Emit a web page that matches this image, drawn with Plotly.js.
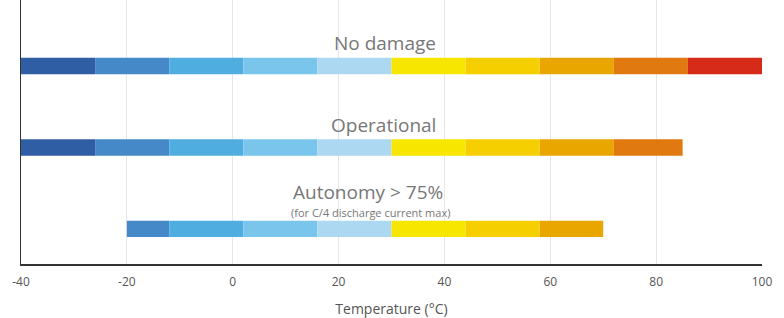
<!DOCTYPE html>
<html><head><meta charset="utf-8">
<script src="https://cdn.plot.ly/plotly-3.0.1.min.js"></script>
<style>html,body{margin:0;padding:0;background:#fff}#c{width:784px;height:318px}</style>
</head><body><div id="c"></div>
<script>
// Temperature bands (°C) and their colours
const bandEdges = [-40, -26, -12, 2, 16, 30, 44, 58, 72, 86, 100];
const bandColors = ["#2F5EA5", "#4689C8", "#4FADE0", "#7AC5EC", "#ACD8F2",
                    "#F6E600", "#F6CF00", "#E9A500", "#E07A10", "#D52B18"];
// Rows
const rowNames = ["No damage", "Operational", "Autonomy > 75%"];
const rowPos = [2, 1, 0];
const rowMin = [-40, -40, -20];
const rowMax = [100, 85, 70];
const xTicks = [-40, -20, 0, 20, 40, 60, 80, 100];

const traces = [];
for (let b = 0; b < bandColors.length; b++) {
  const ys = [], bases = [], widths = [];
  for (let r = 0; r < rowNames.length; r++) {
    const lo = Math.max(bandEdges[b], rowMin[r]);
    const hi = Math.min(bandEdges[b + 1], rowMax[r]);
    if (hi > lo) { ys.push(rowPos[r]); bases.push(lo); widths.push(hi - lo); }
  }
  traces.push({
    type: "bar", orientation: "h", y: ys, x: widths, base: bases,
    width: 0.2, marker: {color: bandColors[b], line: {width: 0}},
    hoverinfo: "skip", showlegend: false
  });
}

const labelX = [28.8, 28.5, 25.5];
const annotations = [
  {x: labelX[0], y: rowPos[0] + 0.28, text: rowNames[0], font: {size: 19}},
  {x: labelX[1], y: rowPos[1] + 0.28, text: rowNames[1], font: {size: 19}},
  {x: labelX[2], y: rowPos[2] + 0.455, text: rowNames[2], font: {size: 19}},
  {x: labelX[2] + 0.5, y: rowPos[2] + 0.2, text: "(for C/4 discharge current max)", font: {size: 11}}
].map(a => Object.assign({xref: "x", yref: "y", showarrow: false, xanchor: "center", yanchor: "middle",
  borderpad: 0}, a,
  {font: Object.assign({family: "Open Sans, sans-serif", color: "#777"}, a.font)}));

Plotly.newPlot("c", traces, {
  width: 784, height: 318,
  margin: {l: 21, r: 22, t: 0, b: 54},
  paper_bgcolor: "#fff", plot_bgcolor: "#fff",
  barmode: "overlay",
  font: {family: "Open Sans, sans-serif", color: "#555"},
  xaxis: {
    range: [-40, 100], tickvals: xTicks, ticktext: xTicks.map(String),
    showgrid: true, gridcolor: "#e6e6e6", gridwidth: 1,
    showline: true, linecolor: "#333", linewidth: 1.5,
    zeroline: false, ticks: "outside", ticklen: 6, tickcolor: "rgba(0,0,0,0)",
    tickfont: {size: 12, color: "#555"},
    title: {text: "Temperature (°C)", font: {size: 14, color: "#555"}, standoff: 16}
  },
  yaxis: {
    range: [-0.43, 2.81], showticklabels: false, showgrid: false,
    showline: true, linecolor: "#333", linewidth: 1.5, zeroline: false, ticks: ""
  },
  annotations: annotations
}, {staticPlot: true, displayModeBar: false});
</script></body></html>
